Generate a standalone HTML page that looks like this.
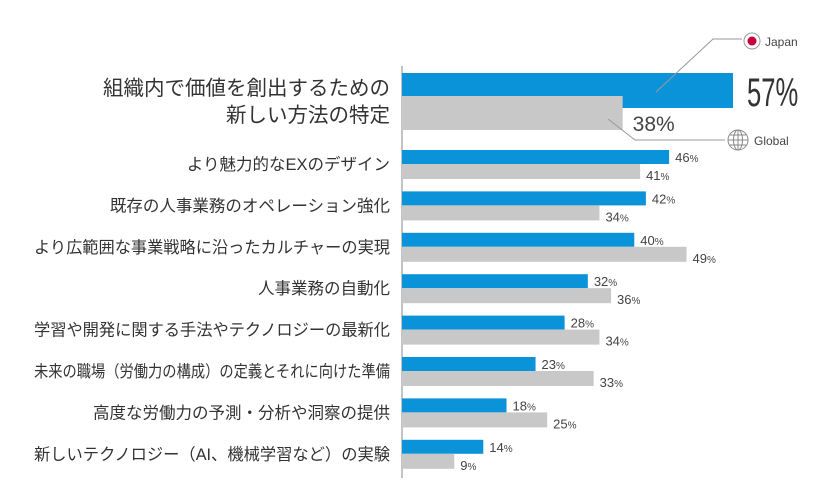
<!DOCTYPE html>
<html><head><meta charset="utf-8"><style>
body{margin:0;background:#fff;}
svg{display:block;font-family:"Liberation Sans","Noto Sans CJK JP",sans-serif;}
</style></head><body>
<svg id="c" width="840" height="483">
<line x1="402" y1="66" x2="402" y2="478" stroke="#888" stroke-width="1"/>
<g id="bars"></g>
<g>
<polyline points="656,92 713,39 742,39" fill="none" stroke="#999" stroke-width="1"/>
<circle cx="752" cy="41" r="8" fill="#fff" stroke="#999"/>
<circle cx="752" cy="41" r="4.5" fill="#c8003c"/>
<text x="765" y="46" font-size="12" fill="#444">Japan</text>
</g>
<g>
<polyline points="608,119 635,140 725,140" fill="none" stroke="#999" stroke-width="1"/>
<circle cx="738" cy="140" r="10" fill="#fff" stroke="#888"/>
<ellipse cx="738" cy="140" rx="4.5" ry="10" fill="none" stroke="#888"/>
<line x1="728" y1="140" x2="748" y2="140" stroke="#888"/>
<line x1="738" y1="130" x2="738" y2="150" stroke="#888"/>
<line x1="730" y1="135" x2="746" y2="135" stroke="#888"/>
<line x1="730" y1="145" x2="746" y2="145" stroke="#888"/>
<text x="754" y="145" font-size="12" fill="#444">Global</text>
</g>
</svg>
<script>
const categories=["より魅力的なEXのデザイン","既存の人事業務のオペレーション強化","より広範囲な事業戦略に沿ったカルチャーの実現","人事業務の自動化","学習や開発に関する手法やテクノロジーの最新化","未来の職場（労働力の構成）の定義とそれに向けた準備","高度な労働力の予測・分析や洞察の提供","新しいテクノロジー（AI、機械学習など）の実験"];
const japan=[46,42,40,32,28,23,18,14];
const global=[41,34,49,36,34,33,25,9];
const topJapan=57, topGlobal=38;
const NS="http://www.w3.org/2000/svg";
const g=document.getElementById('bars');
const x0=402, k=(733-402)/57;
const xs=v=>x0+v*k;
function el(t,a,txt){const e=document.createElementNS(NS,t);for(const n in a)e.setAttribute(n,a[n]);if(txt!=null)e.textContent=txt;g.appendChild(e);return e;}
let e=el('rect',{x:x0,y:73,width:xs(topJapan)-x0,height:35,fill:'#0a93d8'});


e=el('rect',{x:x0,y:96,width:xs(topGlobal)-x0,height:34,fill:'#c8c8c8'});


const tx=xs(topJapan)+14;
e=el('text',{x:tx,y:106,'font-size':40,fill:'#333',transform:`translate(${tx},0) scale(0.64,1) translate(${-tx},0)`},topJapan+'%');


e=el('text',{x:xs(topGlobal)+10,y:131,'font-size':21,fill:'#444'},topGlobal+'%');


e=el('text',{x:390,y:95,'font-size':20.5,fill:'#333','text-anchor':'end'},'組織内で価値を創出するための');


e=el('text',{x:390,y:122,'font-size':20.5,fill:'#333','text-anchor':'end'},'新しい方法の特定');


categories.forEach((c,i)=>{
  const y=150+41.4*i;
  let r=el('rect',{x:x0,y:y,width:xs(japan[i])-x0,height:14,fill:'#0a93d8'});
  
  
  r=el('rect',{x:x0,y:y+14,width:xs(global[i])-x0,height:15,fill:'#c8c8c8'});
  
  
  let t=el('text',{x:xs(japan[i])+6,y:y+12,'font-size':13,fill:'#444'});
  t.innerHTML=japan[i]+'<tspan font-size="10">%</tspan>';
  
  
  t=el('text',{x:xs(global[i])+6,y:y+30,'font-size':13,fill:'#444'});
  t.innerHTML=global[i]+'<tspan font-size="10">%</tspan>';
  
  
  t=el('text',{x:390,y:y+20,'font-size':16.5,fill:'#333','text-anchor':'end'},c);
  
  
  if(t.getComputedTextLength()>356){t.setAttribute('textLength','356');t.setAttribute('lengthAdjust','spacingAndGlyphs');}
});
</script>
</body></html>
